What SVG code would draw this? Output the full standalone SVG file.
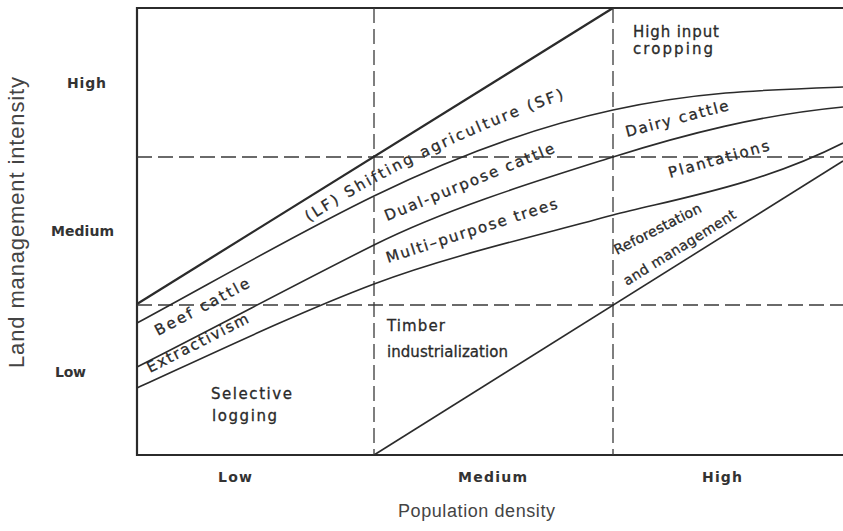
<svg xmlns="http://www.w3.org/2000/svg" width="843" height="531" viewBox="0 0 843 531">
  <style>
    .frame { fill: none; stroke: #2b2b2b; stroke-width: 2.2; }
    .grid { fill: none; stroke: #3a3a3a; stroke-width: 1.3; stroke-dasharray: 15 6; }
    .bound { fill: none; stroke: #2b2b2b; stroke-width: 1.6; }
    .bold-bound { fill: none; stroke: #2b2b2b; stroke-width: 2.3; }
    .lab { font-family: "DejaVu Sans", "Liberation Sans", sans-serif; font-size: 15px; fill: #2a2a2a; stroke: #2a2a2a; stroke-width: 0.3; }
    .small { font-size: 14px; }
    .tick { font-family: "DejaVu Sans", "Liberation Sans", sans-serif; font-size: 14px; font-weight: bold; fill: #333; }
    .axis { font-family: "Liberation Sans", Arial, sans-serif; fill: #444; }
  </style>
  <defs>
    <path id="lf-base" d="M309,222 Q420,150 566,98"/>
  </defs>

  <rect width="843" height="531" fill="#ffffff"/>

  <!-- plot frame: left, top and bottom edges, plus level grid -->
  <g id="frame">
    <path class="frame" d="M843,8 H137 V455 H843"/>
    <line class="grid" x1="137" y1="157" x2="843" y2="157"/>
    <line class="grid" x1="137" y1="305" x2="843" y2="305"/>
    <line class="grid" x1="374" y1="8" x2="374" y2="455"/>
    <line class="grid" x1="613" y1="8" x2="613" y2="455"/>
  </g>

  <!-- boundaries between land-use zones -->
  <g id="connectors">
    <line id="lf-line" class="bold-bound" x1="137" y1="304" x2="613" y2="8"/>
    <path id="sf-curve" class="bound" d="M137,323 C220,278 300,232 374,196 S530,128 613,110 S760,90 843,87"/>
    <path id="cattle-curve" class="bound" d="M137,367 C220,325 300,282 374,245 S540,180 613,157 S760,115 843,107"/>
    <path id="trees-curve" class="bound" d="M137,388 C220,350 300,312 374,284 S540,235 613,215 C680,198 760,185 843,143"/>
    <line id="timber-line" class="bound" x1="374" y1="455" x2="843" y2="161"/>
  </g>

  <!-- zone labels -->
  <g id="high-input-cropping">
    <text class="lab" x="633" y="37" textLength="86">High input</text>
    <text class="lab" x="633" y="54" textLength="80">cropping</text>
  </g>
  <g id="shifting-agriculture">
    <text class="lab" letter-spacing="2.5"><textPath href="#lf-base">(LF) Shifting agriculture (SF)</textPath></text>
  </g>
  <g id="dairy-cattle">
    <text class="lab" transform="translate(627,137) rotate(-14.7)" textLength="106">Dairy cattle</text>
  </g>
  <g id="plantations">
    <text class="lab" transform="translate(670,178) rotate(-15.6)" textLength="104">Plantations</text>
  </g>
  <g id="dual-purpose-cattle">
    <text class="lab" transform="translate(387,221) rotate(-22.2)" textLength="182">Dual-purpose cattle</text>
  </g>
  <g id="multi-purpose-trees">
    <text class="lab" transform="translate(388,263) rotate(-17.9)" textLength="179">Multi–purpose trees</text>
  </g>
  <g id="reforestation">
    <text class="lab small" transform="translate(617,255) rotate(-27)" textLength="96">Reforestation</text>
    <text class="lab small" transform="translate(627,286) rotate(-32)" textLength="130">and management</text>
  </g>
  <g id="beef-cattle">
    <text class="lab" transform="translate(158,336) rotate(-28)" textLength="105">Beef cattle</text>
  </g>
  <g id="extractivism">
    <text class="lab" transform="translate(150,373) rotate(-27)" textLength="112">Extractivism</text>
  </g>
  <g id="timber-industrialization">
    <text class="lab" x="387" y="331" textLength="58">Timber</text>
    <text class="lab" x="387" y="357" textLength="121">industrialization</text>
  </g>
  <g id="selective-logging">
    <text class="lab" x="211" y="399" textLength="81">Selective</text>
    <text class="lab" x="212" y="421" textLength="65">logging</text>
  </g>

  <!-- axis levels -->
  <g id="y-levels">
    <text class="tick" x="67" y="88" textLength="39">High</text>
    <text class="tick" x="51" y="236" textLength="63">Medium</text>
    <text class="tick" x="55" y="377" textLength="31">Low</text>
  </g>
  <g id="x-levels">
    <text class="tick" x="218" y="482" textLength="34">Low</text>
    <text class="tick" x="458" y="482" textLength="69">Medium</text>
    <text class="tick" x="702" y="482" textLength="40">High</text>
  </g>

  <!-- axis titles -->
  <g id="axis-titles">
    <text class="axis" transform="translate(24,222.5) rotate(-90)" text-anchor="middle" font-size="22" textLength="291">Land management intensity</text>
    <text class="axis" x="476.5" y="517" text-anchor="middle" font-size="18" textLength="157">Population density</text>
  </g>
</svg>
